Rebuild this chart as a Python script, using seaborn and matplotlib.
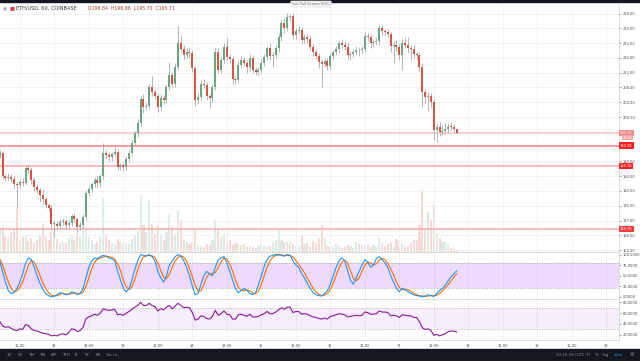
#set up modules
import numpy as np
import matplotlib
matplotlib.use("Agg")
import matplotlib.pyplot as plt
import seaborn as sns

#hourly ETH/USD candles, first one is 11th 05:00 (hour -19 from the 12th 00:00)
first_open = 189.5
close = [190.2, 184.0, 183.6, 183.9, 183.2, 181.8, 181.6, 182.4, 182.1, 186.2,
         185.6, 183.0, 181.0, 180.2, 179.0, 177.7, 176.2, 175.5, 171.0, 171.2,
         170.5, 171.6, 171.8, 170.8, 171.4, 173.2, 172.3, 170.2, 170.9, 173.0,
         179.4, 180.6, 181.8, 183.0, 182.1, 184.0, 190.4, 189.6, 189.1, 189.9,
         190.6, 186.6, 187.0, 186.5, 188.6, 190.3, 193.0, 195.6, 198.5, 205.0,
         202.6, 203.0, 208.0, 206.7, 205.8, 202.8, 205.1, 204.6, 208.0, 211.3,
         209.0, 213.6, 220.0, 218.5, 216.8, 217.6, 217.2, 213.2, 204.6, 205.5,
         209.0, 208.6, 205.6, 205.1, 208.0, 217.6, 212.8, 215.4, 219.0, 216.3,
         215.8, 210.2, 210.0, 214.0, 215.4, 214.6, 213.4, 216.0, 212.8, 212.3,
         212.6, 214.6, 216.2, 218.6, 216.4, 216.8, 218.6, 221.6, 225.4, 224.0,
         227.0, 227.2, 222.2, 223.4, 223.6, 220.8, 221.6, 221.2, 219.0, 217.6,
         216.6, 214.8, 214.4, 215.2, 213.8, 216.6, 217.6, 218.4, 220.0, 219.4,
         219.0, 216.7, 217.0, 217.6, 218.2, 218.0, 218.4, 222.0, 221.6, 220.0,
         220.3, 220.5, 224.0, 223.2, 223.0, 222.4, 219.2, 219.6, 219.0, 216.8,
         220.0, 219.6, 218.7, 218.5, 217.0, 216.8, 213.5, 206.8, 205.4, 205.6,
         204.0, 196.6, 197.2, 196.0, 196.3, 196.8, 197.4, 197.3, 196.84, 195.71]

#wick lengths above / below the body
upper_wick = [0.8, 0.6, 0.5, 1.0, 0.7, 0.9, 0.6, 0.8, 1.2, 0.6,
              0.8, 1.0, 0.7, 0.9, 0.6, 1.6, 0.8, 0.5, 0.7, 0.9,
              0.6, 0.8, 1.0, 0.5, 0.7, 0.6, 0.9, 0.5, 0.6, 0.8,
              0.9, 0.7, 0.6, 0.8, 1.0, 0.6, 2.5, 0.8, 0.9, 0.6,
              1.2, 0.8, 0.7, 0.6, 0.9, 0.7, 0.8, 0.6, 0.9, 0.7,
              1.2, 1.0, 1.0, 3.0, 1.0, 0.8, 1.2, 0.9, 0.8, 3.6,
              1.0, 0.9, 4.6, 1.8, 1.0, 1.2, 1.4, 0.8, 0.6, 0.9,
              1.0, 1.2, 0.8, 0.6, 1.0, 1.2, 1.0, 0.8, 1.0, 2.4,
              0.8, 0.6, 0.9, 1.2, 1.0, 0.8, 0.9, 1.0, 0.7, 0.6,
              0.9, 1.0, 0.8, 0.7, 1.4, 0.9, 0.8, 1.0, 1.2, 1.4,
              1.2, 0.6, 0.9, 0.8, 1.0, 0.7, 0.8, 0.9, 0.6, 0.8,
              0.7, 0.6, 0.8, 0.9, 0.7, 0.8, 0.6, 0.9, 0.8, 1.0,
              1.2, 1.4, 0.8, 0.6, 0.9, 0.7, 0.8, 1.0, 0.8, 0.9,
              0.7, 0.8, 1.0, 0.9, 0.7, 0.8, 0.6, 0.9, 1.2, 0.8,
              1.0, 1.6, 2.0, 0.8, 0.9, 0.7, 0.8, 1.0, 0.8, 1.2,
              1.0, 0.8, 0.9, 1.4, 1.6, 1.5, 1.0, 1.2, 0.8, 0.02]
lower_wick = [0.6, 0.8, 1.0, 0.7, 0.9, 1.2, 5.9, 0.8, 0.7, 0.6,
              0.8, 1.0, 0.9, 0.7, 2.0, 1.2, 0.8, 1.0, 1.4, 3.5,
              1.0, 0.8, 0.9, 1.2, 0.7, 0.8, 0.6, 1.5, 0.7, 0.9,
              0.8, 0.7, 1.0, 0.8, 1.2, 0.9, 0.8, 1.0, 1.1, 0.9,
              0.8, 1.0, 0.8, 1.2, 0.9, 0.7, 0.8, 0.6, 0.9, 0.8,
              1.4, 0.8, 0.9, 1.0, 0.8, 1.4, 0.9, 1.2, 0.8, 0.7,
              1.0, 0.8, 0.9, 1.0, 1.2, 0.8, 0.9, 1.0, 1.5, 1.2,
              0.8, 0.9, 1.0, 2.3, 0.9, 0.8, 1.0, 0.9, 0.8, 1.0,
              1.2, 1.4, 1.0, 0.9, 0.8, 0.7, 1.6, 0.9, 1.0, 0.8,
              0.9, 0.8, 0.7, 0.9, 1.0, 3.0, 0.8, 0.9, 1.0, 1.2,
              0.8, 0.9, 1.2, 1.0, 0.9, 1.0, 0.8, 1.1, 0.9, 1.2,
              1.0, 1.5, 6.3, 1.0, 1.2, 0.9, 0.8, 0.9, 1.0, 0.8,
              0.9, 1.0, 1.2, 0.8, 0.9, 1.6, 0.8, 0.9, 1.0, 1.4,
              0.9, 0.8, 0.9, 1.0, 1.2, 0.8, 1.6, 4.5, 1.2, 1.5,
              4.1, 1.0, 1.4, 3.0, 1.0, 1.2, 1.0, 4.1, 1.6, 3.9,
              1.2, 2.8, 3.3, 1.0, 0.9, 0.8, 1.0, 0.9, 1.0, 0.01]

volume = [23, 25, 15, 14, 20, 23, 45, 12, 15, 17,
          11, 14, 9, 12, 16, 28, 15, 12, 21, 20,
          13, 9, 10, 9, 14, 16, 12, 18, 15, 25,
          25, 15, 12, 8, 10, 15, 54, 18, 12, 9,
          8, 13, 10, 8, 9, 8, 13, 17, 21, 57,
          27, 20, 52, 28, 18, 27, 17, 12, 20, 37,
          25, 16, 42, 32, 12, 10, 8, 10, 22, 7,
          6, 5, 8, 7, 12, 32, 22, 15, 18, 9,
          12, 7, 9, 8, 7, 8, 5, 6, 5, 4,
          6, 8, 6, 5, 6, 9, 12, 22, 12, 10,
          10, 10, 8, 6, 6, 17, 8, 9, 5, 11,
          9, 14, 27, 14, 6, 5, 5, 8, 6, 4,
          5, 7, 6, 4, 10, 8, 7, 7, 8, 5,
          7, 6, 14, 9, 6, 8, 9, 5, 13, 6,
          8, 5, 6, 9, 12, 12, 27, 62, 22, 40,
          32, 47, 19, 14, 10, 10, 8, 4, 3, 2]

#stochastic RSI (%K blue, %D orange)
stoch_k = [85, 60, 35, 15, 8, 10, 20, 35, 55, 80,
           92, 88, 70, 50, 32, 18, 8, 3, 0, 2,
           5, 10, 8, 5, 6, 12, 10, 5, 8, 20,
           45, 70, 85, 92, 90, 95, 98, 96, 92, 90,
           85, 60, 40, 20, 12, 20, 40, 65, 85, 100,
           98, 96, 100, 95, 85, 60, 45, 35, 50, 75,
           85, 95, 100, 96, 85, 70, 50, 25, 5, 8,
           30, 50, 60, 55, 50, 70, 88, 92, 95, 80,
           60, 40, 20, 10, 15, 20, 15, 8, 5, 10,
           28, 50, 72, 88, 96, 98, 100, 100, 98, 96,
           100, 98, 85, 75, 70, 55, 45, 32, 20, 10,
           5, 3, 2, 8, 15, 30, 50, 70, 85, 92,
           85, 62, 40, 30, 45, 60, 75, 88, 82, 70,
           75, 90, 95, 88, 80, 70, 50, 35, 20, 12,
           20, 18, 12, 8, 5, 3, 2, 0, 2, 5,
           3, 1, 8, 15, 20, 28, 38, 48, 55, 62]
stoch_d = [90, 75, 55, 35, 20, 12, 14, 22, 36, 55,
           75, 86, 82, 68, 50, 33, 20, 10, 4, 2,
           3, 6, 8, 7, 6, 8, 9, 9, 8, 11,
           25, 45, 67, 82, 89, 92, 94, 96, 95, 93,
           89, 78, 62, 40, 24, 17, 24, 42, 63, 83,
           94, 98, 98, 97, 93, 80, 63, 47, 43, 53,
           70, 85, 93, 97, 94, 84, 68, 48, 27, 13,
           14, 29, 47, 55, 55, 58, 69, 83, 92, 89,
           78, 60, 40, 23, 15, 15, 17, 14, 9, 8,
           14, 29, 50, 70, 85, 94, 98, 99, 99, 98,
           98, 98, 94, 86, 77, 67, 57, 44, 32, 21,
           12, 6, 3, 4, 8, 18, 32, 50, 68, 82,
           87, 80, 62, 44, 38, 45, 60, 74, 82, 80,
           76, 78, 87, 91, 88, 79, 67, 52, 35, 22,
           17, 17, 17, 13, 8, 5, 3, 2, 1, 2,
           3, 3, 4, 8, 14, 21, 29, 38, 47, 55]

rsi = [45, 36, 34, 35, 32, 29, 28, 31, 30, 39,
       37, 31, 28, 27, 25, 23, 22, 21, 18, 19,
       18, 21, 22, 20, 24, 31, 30, 26, 28, 34,
       50, 53, 55, 58, 56, 60, 68, 66, 65, 66,
       67, 57, 58, 56, 60, 63, 67, 71, 74, 80,
       74, 74, 78, 74, 72, 64, 68, 66, 71, 74,
       68, 73, 78, 74, 70, 71, 70, 61, 47, 49,
       55, 54, 50, 49, 54, 65, 56, 59, 64, 58,
       57, 49, 49, 57, 58, 56, 54, 58, 53, 53,
       54, 57, 59, 63, 59, 59, 62, 66, 70, 67,
       71, 71, 61, 63, 63, 58, 59, 58, 55, 53,
       52, 50, 49, 51, 49, 54, 55, 57, 59, 58,
       57, 53, 54, 55, 56, 55, 56, 62, 61, 58,
       58, 59, 64, 62, 62, 61, 55, 56, 55, 52,
       57, 56, 55, 55, 52, 52, 44, 33, 30, 31,
       28, 19, 21, 18, 20, 22, 26, 27, 27, 25]

#horizontal levels drawn on the chart
levels = [195.71, 192.28, 186.76, 169.78]
level_colors = ["#f7c4c4", "#f47f7f", "#f6a9a9", "#f6a9a9"]
level_box = ["#f08c8c", "#ff1f1f", "#ff1f1f", "#f23b3b"]

price_ticks = [164, 168, 172, 176, 180, 184, 188, 200, 204, 208, 212, 216, 220, 224, 228]
time_ticks = list(range(-12, 193, 12))
time_labels = ["12:00", "12", "12:00", "13", "12:00", "14", "12:00", "15", "12:00",
               "16", "12:00", "17", "12:00", "18", "12:00", "19", "12:00", "20"]

#derived arrays
hours = np.arange(len(close)) - 19
c = np.array(close)
o = np.array([first_open] + close[:-1])
hi = np.maximum(o, c) + np.array(upper_wick)
lo = np.minimum(o, c) - np.array(lower_wick)
up = c >= o

green = "#6ba583"
red = "#d75442"
wick = "#a9a9a9"
grid = "#f0f0f0"
txt = "#4a4a4a"
fs = 2.6

sns.set_style("white")
plt.rcParams['font.family'] = ['DejaVu Sans']

W, H = 640, 361
fig = plt.figure(figsize=(6.4, 3.61), dpi=100)

def rect(x0, y0, x1, y1):
    return [x0 / W, 1 - y1 / H, (x1 - x0) / W, (y1 - y0) / H]

ax = fig.add_axes(rect(0, 5, 619, 252))
axv = ax.twinx()
axs = fig.add_axes(rect(0, 252, 619, 299), sharex=ax)
axr = fig.add_axes(rect(0, 299, 619, 340), sharex=ax)

xmin, xmax = -18.9, 196.4

#volume under the candles
vcol = [green if u else red for u in up]
axv.bar(hours, volume, width=0.72, color=vcol, alpha=0.22, linewidth=0)
axv.set_ylim(0, 247)
axv.set_yticks([])
for s in axv.spines.values():
    s.set_visible(False)
ax.set_zorder(axv.get_zorder() + 1)
ax.patch.set_visible(False)

#candles
ax.vlines(hours, lo, hi, color=wick, linewidth=0.6, zorder=3)
body = np.maximum(np.abs(c - o), 0.25)
ax.bar(hours, body, bottom=np.minimum(o, c), width=0.68,
       color=[green if u else red for u in up], linewidth=0, zorder=4)

for lv, lc in zip(levels, level_colors):
    ax.axhline(lv, color=lc, linewidth=1.1, zorder=2)

ax.set_xlim(xmin, xmax)
ax.set_ylim(163.5, 230.3)
ax.yaxis.tick_right()
ax.set_yticks(price_ticks)
ax.set_yticklabels(["%.2f" % p for p in price_ticks])
ax.set_xticks(time_ticks)
ax.grid(True, color=grid, linewidth=0.6)
ax.tick_params(axis="y", labelsize=fs, colors=txt, length=1.2, width=0.4, pad=1.2)
ax.tick_params(axis="x", labelbottom=False, length=0)

for lv, bc in zip(levels, level_box):
    ax.text(1.0015, lv, "%.2f" % lv, transform=ax.get_yaxis_transform(),
            fontsize=fs, color="white", va="center", ha="left",
            bbox=dict(boxstyle="square,pad=0.3", facecolor=bc, edgecolor="none"))
ax.text(1.006, levels[0] - 1.25, "43:36", transform=ax.get_yaxis_transform(),
        fontsize=fs - 0.3, color="white", va="center", ha="left",
        bbox=dict(boxstyle="square,pad=0.25", facecolor="#f4a3a3", edgecolor="none"))

#stochastic RSI pane
axs.axhspan(20, 80, color="#9c27f0", alpha=0.17, linewidth=0)
axs.axhline(80, color="#9e9e9e", linewidth=0.5, linestyle=(0, (2, 2)))
axs.axhline(20, color="#9e9e9e", linewidth=0.5, linestyle=(0, (2, 2)))
sns.lineplot(x=hours, y=stoch_d, ax=axs, color="#ff6d00", linewidth=0.8)
sns.lineplot(x=hours, y=stoch_k, ax=axs, color="#2196f3", linewidth=0.8)
axs.set_ylim(-5, 106)
axs.yaxis.tick_right()
axs.set_yticks([0, 25, 50, 75, 100])
axs.set_yticklabels(["0.0000", "25.0000", "50.0000", "75.0000", "100.0000"])
axs.tick_params(axis="y", labelsize=fs, colors=txt, length=1.2, width=0.4, pad=1.2)
axs.tick_params(axis="x", labelbottom=False, length=0)
axs.grid(True, axis="x", color=grid, linewidth=0.6)
axs.set_xticks(time_ticks)

#RSI pane
axr.axhspan(30, 70, color="#9c27f0", alpha=0.08, linewidth=0)
axr.axhline(70, color="#b0b0b0", linewidth=0.5, linestyle=(0, (2, 2)))
axr.axhline(30, color="#b0b0b0", linewidth=0.5, linestyle=(0, (2, 2)))
sns.lineplot(x=hours, y=rsi, ax=axr, color="#8e1599", linewidth=0.8)
axr.set_ylim(10.5, 86)
axr.yaxis.tick_right()
axr.set_yticks([20, 40, 60, 80])
axr.set_yticklabels(["20.0000", "40.0000", "60.0000", "80.0000"])
axr.set_xticks(time_ticks)
axr.set_xticklabels(time_labels)
axr.tick_params(axis="y", labelsize=fs, colors=txt, length=1.2, width=0.4, pad=1.2)
axr.tick_params(axis="x", labelsize=fs, colors=txt, length=1.2, width=0.4, pad=1.5)
axr.grid(True, axis="x", color=grid, linewidth=0.6)
axr.set_xlim(xmin, xmax)

for a in (ax, axs, axr):
    a.set_xlabel("")
    a.set_ylabel("")
    for s in a.spines.values():
        s.set_color("#d6d6d6")
        s.set_linewidth(0.6)
    a.spines["left"].set_visible(False)
    a.spines["top"].set_visible(False)
axs.spines["top"].set_visible(True)
axr.spines["top"].set_visible(True)

#header and toolbars
fig.patches.append(plt.Rectangle((0, 1 - 2 / H), 1, 2 / H, transform=fig.transFigure,
                                 color="#131722", zorder=0))
fig.patches.append(plt.Rectangle((0, 0), 1, 12 / H, transform=fig.transFigure,
                                 color="#131722", zorder=0))
fig.text(3 / W, 1 - 8 / H, "\u25cf", fontsize=3.4, color="#b5b5b5", va="center")
fig.text(9 / W, 1 - 8 / H, "\u25a0", fontsize=3.8, color="#e53935", va="center")
fig.text(16 / W, 1 - 8 / H, "ETH/USD, 60, COINBASE", fontsize=3.6, color="#333333", va="center")
fig.text(88 / W, 1 - 8 / H, "O196.84  H196.86  L195.70  C195.71", fontsize=3.3,
         color="#9c3b33", va="center")
fig.text(311 / W, 1 - 4 / H, "Exit Full Screen (ESC)", fontsize=2.6, color="#777777",
         ha="center", va="center",
         bbox=dict(boxstyle="round,pad=0.3", facecolor="#f2f2f2", edgecolor="#dddddd", linewidth=0.3))

bottom_y = 6 / H
x = 7
for lab in ["1D", "5D", "1M", "3M", "6M", "YTD", "1Y", "5Y", "All"]:
    fig.text(x / W, bottom_y, lab, fontsize=2.9, color="#8a8f9c", va="center")
    x += 11 if len(lab) < 3 else 12
fig.text(106 / W, bottom_y, "Go to...", fontsize=2.9, color="#8a8f9c", va="center")
fig.text(556 / W, bottom_y, "20:16:24 (UTC-7)", fontsize=2.9, color="#8a8f9c", va="center")
fig.text(595 / W, bottom_y, "%", fontsize=2.9, color="#8a8f9c", va="center")
fig.text(603 / W, bottom_y, "log", fontsize=2.9, color="#8a8f9c", va="center")
fig.text(614 / W, bottom_y, "auto", fontsize=2.9, color="#2f7fe0", va="center")
fig.text(630 / W, bottom_y, "\u2699", fontsize=3.6, color="#8a8f9c", va="center")

plt.savefig("out.png", dpi=100)
